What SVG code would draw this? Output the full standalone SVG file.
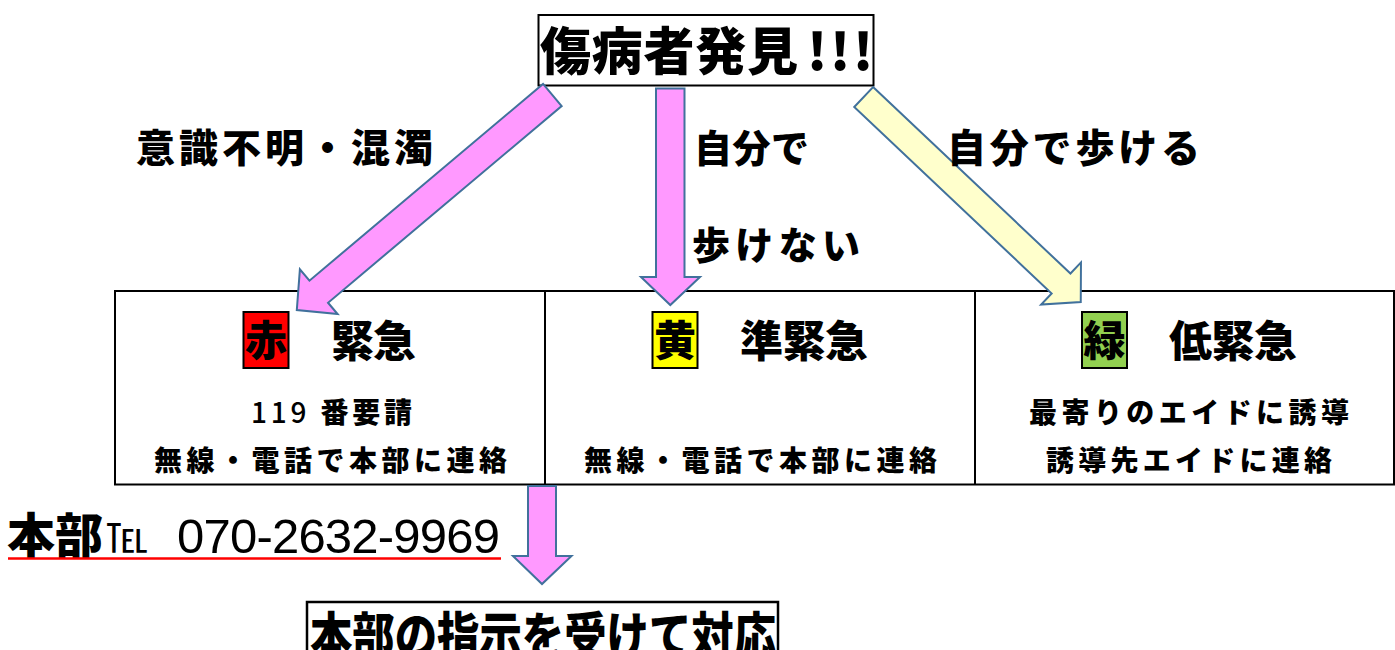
<svg xmlns="http://www.w3.org/2000/svg" width="1395" height="650" viewBox="0 0 1395 650">
<style>
.jp{font-family:"Noto Sans CJK JP","Noto Sans CJK SC",sans-serif;font-weight:900;fill:#000}
.box{fill:#fff;stroke:#000;stroke-width:2}
.pink{fill:#FF99FF;stroke:#41719C;stroke-width:2;stroke-linejoin:miter}
.yel{fill:#FFFFCC;stroke:#41719C;stroke-width:2;stroke-linejoin:miter}
.tag{stroke:#000;stroke-width:2}
</style>
<rect width="1395" height="650" fill="#fff"/>

<g id="node-start">
<rect class="box" x="538.5" y="15" width="335" height="70.5"/>
<text class="jp" x="540" y="70" font-size="51" textLength="258" lengthAdjust="spacing">傷病者発見</text>
<text class="jp" x="817 840 863" y="70" font-size="51" text-anchor="middle">!!!</text>
</g>

<g id="node-table">
<rect class="box" x="115" y="291" width="1279" height="193.5"/>
<line x1="545" y1="291" x2="545" y2="484.5" stroke="#000" stroke-width="2"/>
<line x1="975" y1="291" x2="975" y2="484.5" stroke="#000" stroke-width="2"/>
</g>

<g id="node-red">
<rect class="tag" x="243.5" y="312" width="45" height="56" fill="#FF0000"/>
<text class="jp" x="266" y="356" font-size="42" text-anchor="middle">赤</text>
<text class="jp" x="331" y="357" font-size="43" textLength="85" lengthAdjust="spacing">緊急</text>
<text class="jp" x="251" y="423" font-size="28" textLength="161" lengthAdjust="spacing"><tspan font-weight="500">119</tspan> 番要請</text>
<text class="jp" x="154" y="471" font-size="28" textLength="353" lengthAdjust="spacing">無線・電話で本部に連絡</text>
</g>

<g id="node-yellow">
<rect class="tag" x="652.5" y="312" width="45" height="56" fill="#FFFF00"/>
<text class="jp" x="675" y="356" font-size="42" text-anchor="middle">黄</text>
<text class="jp" x="740" y="357" font-size="43" textLength="128" lengthAdjust="spacing">準緊急</text>
<text class="jp" x="584" y="471" font-size="28" textLength="353" lengthAdjust="spacing">無線・電話で本部に連絡</text>
</g>

<g id="node-green">
<rect class="tag" x="1082" y="312" width="45" height="56" fill="#92D050"/>
<text class="jp" x="1104.5" y="356" font-size="42" text-anchor="middle">緑</text>
<text class="jp" x="1169" y="357" font-size="43" textLength="128" lengthAdjust="spacing">低緊急</text>
<text class="jp" x="1029" y="423" font-size="28" textLength="320" lengthAdjust="spacing">最寄りのエイドに誘導</text>
<text class="jp" x="1046" y="471" font-size="28" textLength="286" lengthAdjust="spacing">誘導先エイドに連絡</text>
</g>

<g id="node-hq">
<text class="jp" x="7" y="553" font-size="48" textLength="96" lengthAdjust="spacingAndGlyphs">本部</text>
<text x="106" y="552" font-family="Noto Sans CJK JP,sans-serif" font-size="40" textLength="42" lengthAdjust="spacingAndGlyphs">℡</text>
<text x="177" y="553" font-family="Liberation Sans,Arial,sans-serif" font-size="49" textLength="323" lengthAdjust="spacing">070-2632-9969</text>
<line x1="8" y1="558.5" x2="501" y2="558.5" stroke="#FF0000" stroke-width="2.5"/>
</g>

<g id="node-end">
<rect x="307" y="602" width="471" height="60" fill="#fff" stroke="#000" stroke-width="2.5"/>
<text class="jp" x="310" y="654" font-size="50" textLength="466" lengthAdjust="spacingAndGlyphs">本部の指示を受けて対応</text>
</g>

<g id="connectors">
<polygon class="pink" points="543.05,83.95 561.65,106.05 328.05,302.75 337.6,314.1 296.8,310.1 299.9,269.3 309.45,280.65"/>
<polygon class="pink" points="656,88.5 684.5,88.5 684.5,277 700,277 670.3,305 641,277 656,277"/>
<polygon class="yel" points="873.06,87.04 1070.46,273.54 1080.97,262.42 1080.75,302.1 1041.13,304.58 1051.64,293.46 854.24,106.96"/>
<polygon class="pink" points="528,486 556,486 556,556 571.5,556 542,584 513,556 528,556"/>
<text class="jp" x="136" y="162" font-size="39" textLength="297" lengthAdjust="spacing">意識不明・混濁</text>
<text class="jp" x="694" y="162" font-size="38" textLength="115" lengthAdjust="spacing">自分で</text>
<text class="jp" x="692" y="259" font-size="38" textLength="168" lengthAdjust="spacing">歩けない</text>
<text class="jp" x="947" y="162" font-size="39" textLength="253" lengthAdjust="spacing">自分で歩ける</text>
</g>
</svg>
